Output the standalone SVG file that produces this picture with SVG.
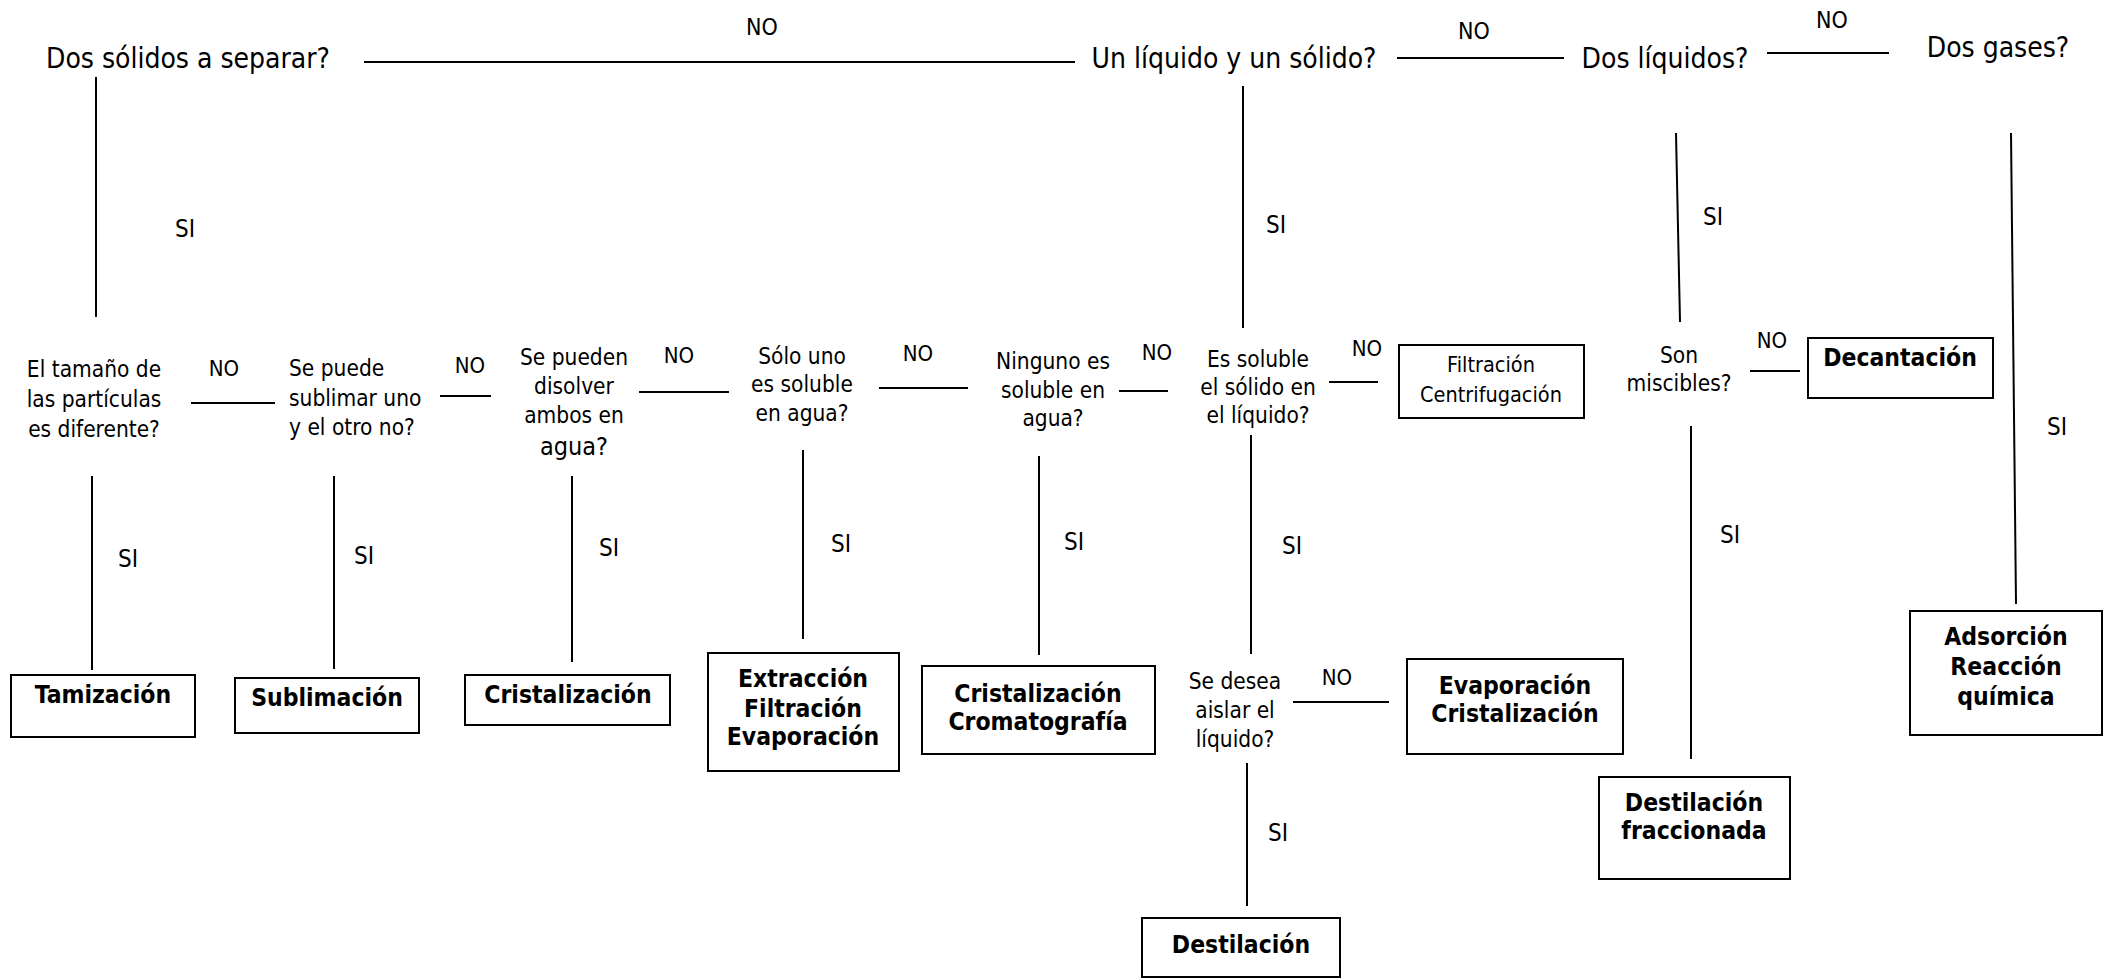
<svg xmlns="http://www.w3.org/2000/svg" width="2114" height="979" viewBox="0 0 2114 979">
<style>
text{font-family:"DejaVu Sans Condensed","DejaVu Sans",sans-serif;fill:#000}
.t{font-size:28px;text-anchor:middle}
.q{font-size:22.5px;text-anchor:middle}
.ql{font-size:22.5px;text-anchor:start}
.lb{font-size:23px;text-anchor:middle}
.no{font-size:22px;text-anchor:middle}
.si{font-size:24px;text-anchor:middle}
.b{font-size:24.5px;font-weight:bold;text-anchor:middle}
.n{font-size:21.5px;text-anchor:middle}
rect{fill:#fff;stroke:#000;stroke-width:2}
#connectors line{stroke:#000;stroke-width:2}
</style>
<rect x="0" y="0" width="2114" height="979" style="fill:#fff;stroke:none"/>
<g id="connectors">
<line x1="364" y1="62" x2="1075" y2="62"/>
<line x1="1397" y1="58" x2="1564" y2="58"/>
<line x1="1767" y1="53" x2="1889" y2="53"/>
<line x1="96" y1="77" x2="96" y2="317"/>
<line x1="1243" y1="86" x2="1243" y2="328"/>
<line x1="1676" y1="133" x2="1680" y2="322"/>
<line x1="2011" y1="133" x2="2016" y2="604"/>
<line x1="191" y1="403" x2="275" y2="403"/>
<line x1="440" y1="396" x2="491" y2="396"/>
<line x1="639" y1="392" x2="729" y2="392"/>
<line x1="879" y1="388" x2="968" y2="388"/>
<line x1="1119" y1="391" x2="1168" y2="391"/>
<line x1="1329" y1="382" x2="1378" y2="382"/>
<line x1="1750" y1="371" x2="1800" y2="371"/>
<line x1="92" y1="476" x2="92" y2="670"/>
<line x1="334" y1="476" x2="334" y2="669"/>
<line x1="572" y1="476" x2="572" y2="662"/>
<line x1="803" y1="450" x2="803" y2="639"/>
<line x1="1039" y1="456" x2="1039" y2="655"/>
<line x1="1251" y1="435" x2="1251" y2="654"/>
<line x1="1293" y1="702" x2="1389" y2="702"/>
<line x1="1247" y1="763" x2="1247" y2="906"/>
<line x1="1691" y1="426" x2="1691" y2="759"/>
<text class="lb" x="762" y="35">NO</text>
<text class="lb" x="1474" y="39">NO</text>
<text class="lb" x="1832" y="28">NO</text>
<text class="si" x="185" y="237">SI</text>
<text class="si" x="1276" y="233">SI</text>
<text class="si" x="1713" y="225">SI</text>
<text class="si" x="2057" y="435">SI</text>
<text class="no" x="224" y="376">NO</text>
<text class="no" x="470" y="373">NO</text>
<text class="no" x="679" y="363">NO</text>
<text class="no" x="918" y="361">NO</text>
<text class="no" x="1157" y="360">NO</text>
<text class="no" x="1367" y="356">NO</text>
<text class="no" x="1772" y="348">NO</text>
<text class="no" x="1337" y="685">NO</text>
<text class="si" x="128" y="567">SI</text>
<text class="si" x="364" y="564">SI</text>
<text class="si" x="609" y="556">SI</text>
<text class="si" x="841" y="552">SI</text>
<text class="si" x="1074" y="550">SI</text>
<text class="si" x="1292" y="554">SI</text>
<text class="si" x="1278" y="841">SI</text>
<text class="si" x="1730" y="543">SI</text>
</g>
<g id="q-dos-solidos"><text class="t" x="188" y="68">Dos sólidos a separar?</text></g>
<g id="q-liquido-solido"><text class="t" x="1234" y="68">Un líquido y un sólido?</text></g>
<g id="q-dos-liquidos"><text class="t" x="1665" y="68">Dos líquidos?</text></g>
<g id="q-dos-gases"><text class="t" x="1998" y="57">Dos gases?</text></g>
<g id="q-tamano"><text class="q" x="94" y="377">El tamaño de</text><text class="q" x="94" y="407">las partículas</text><text class="q" x="94" y="437">es diferente?</text></g>
<g id="q-sublimar"><text class="ql" x="289" y="376">Se puede</text><text class="ql" x="289" y="406">sublimar uno</text><text class="ql" x="289" y="435">y el otro no?</text></g>
<g id="q-disolver"><text class="q" x="574" y="365">Se pueden</text><text class="q" x="574" y="394">disolver</text><text class="q" x="574" y="423">ambos en</text><text class="q" x="574" y="455" style="font-size:25px">agua?</text></g>
<g id="q-solo-uno"><text class="q" x="802" y="364">Sólo uno</text><text class="q" x="802" y="392">es soluble</text><text class="q" x="802" y="421">en agua?</text></g>
<g id="q-ninguno"><text class="q" x="1053" y="369">Ninguno es</text><text class="q" x="1053" y="398">soluble en</text><text class="q" x="1053" y="426">agua?</text></g>
<g id="q-es-soluble"><text class="q" x="1258" y="367">Es soluble</text><text class="q" x="1258" y="395">el sólido en</text><text class="q" x="1258" y="423">el líquido?</text></g>
<g id="q-miscibles"><text class="q" x="1679" y="363">Son</text><text class="q" x="1679" y="391">miscibles?</text></g>
<g id="q-aislar"><text class="q" x="1235" y="689">Se desea</text><text class="q" x="1235" y="718">aislar el</text><text class="q" x="1235" y="747">líquido?</text></g>
<g id="r-filtracion"><rect x="1399" y="345" width="185" height="73"/><text class="n" x="1491" y="372">Filtración</text><text class="n" x="1491" y="402">Centrifugación</text></g>
<g id="r-decantacion"><rect x="1808" y="338" width="185" height="60"/><text class="b" x="1900" y="366">Decantación</text></g>
<g id="r-tamizacion"><rect x="11" y="675" width="184" height="62"/><text class="b" x="103" y="703">Tamización</text></g>
<g id="r-sublimacion"><rect x="235" y="678" width="184" height="55"/><text class="b" x="327" y="706">Sublimación</text></g>
<g id="r-cristalizacion"><rect x="465" y="675" width="205" height="50"/><text class="b" x="568" y="703">Cristalización</text></g>
<g id="r-extraccion"><rect x="708" y="653" width="191" height="118"/><text class="b" x="803" y="687">Extracción</text><text class="b" x="803" y="717">Filtración</text><text class="b" x="803" y="745">Evaporación</text></g>
<g id="r-cromatografia"><rect x="922" y="666" width="233" height="88"/><text class="b" x="1038" y="702">Cristalización</text><text class="b" x="1038" y="730">Cromatografía</text></g>
<g id="r-evaporacion"><rect x="1407" y="659" width="216" height="95"/><text class="b" x="1515" y="694">Evaporación</text><text class="b" x="1515" y="722">Cristalización</text></g>
<g id="r-destilacion"><rect x="1142" y="918" width="198" height="59"/><text class="b" x="1241" y="953">Destilación</text></g>
<g id="r-fraccionada"><rect x="1599" y="777" width="191" height="102"/><text class="b" x="1694" y="811">Destilación</text><text class="b" x="1694" y="839">fraccionada</text></g>
<g id="r-adsorcion"><rect x="1910" y="611" width="192" height="124"/><text class="b" x="2006" y="645">Adsorción</text><text class="b" x="2006" y="675">Reacción</text><text class="b" x="2006" y="705">química</text></g>
</svg>
